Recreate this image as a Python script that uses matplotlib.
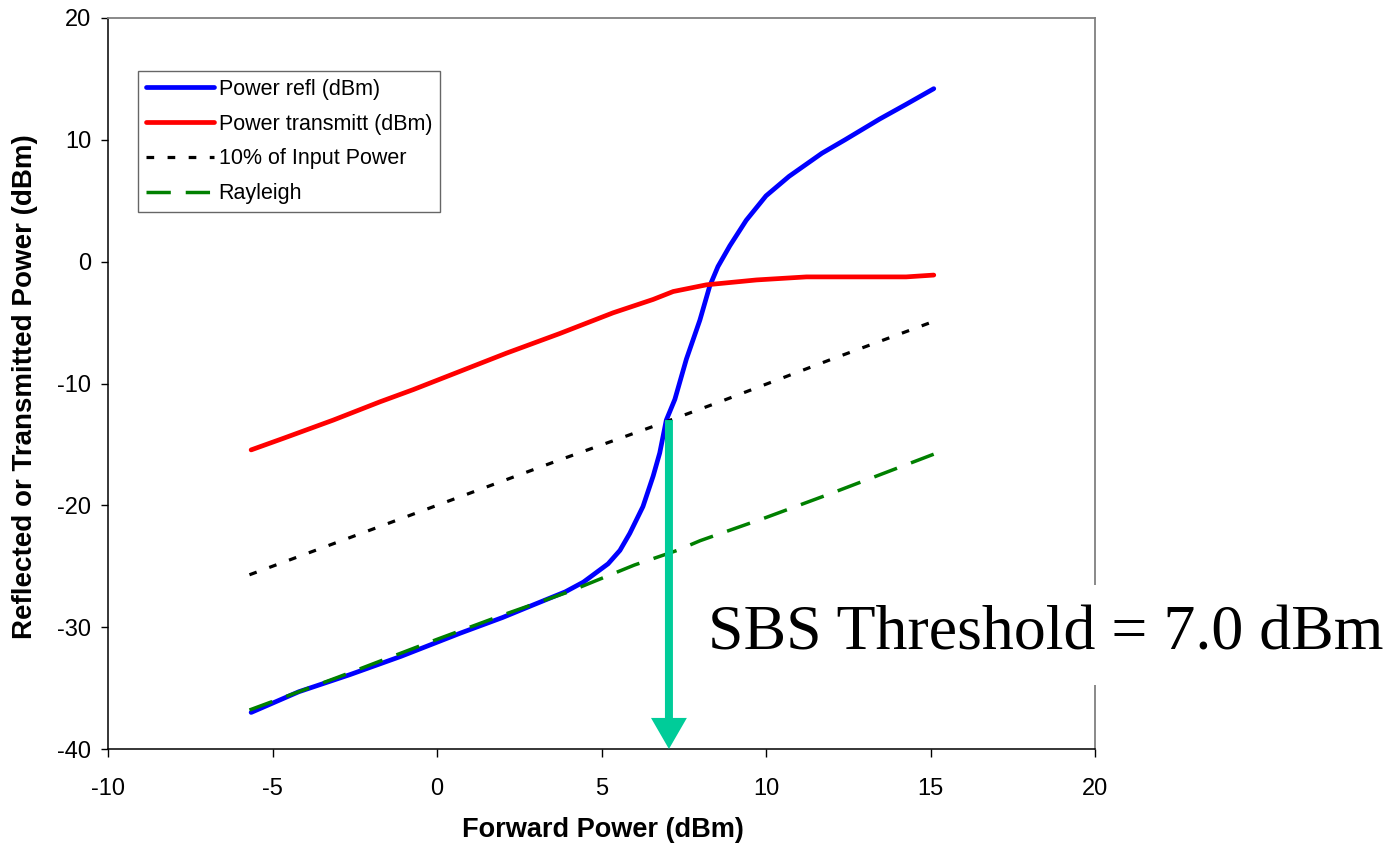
import matplotlib
matplotlib.use("Agg")
import matplotlib.pyplot as plt
from matplotlib.patches import FancyArrow, Rectangle

# ---------------- data ----------------
refl_x = [-5.65, -4.2, -2.65, -1.1, 0.7, 2.0, 2.9, 3.9, 4.45, 4.8, 5.2, 5.56, 5.86,
          6.26, 6.57, 6.77, 6.97, 7.23, 7.58, 7.99, 8.29, 8.54, 8.9, 9.4, 10.0,
          10.7, 11.7, 12.4, 13.45, 14.25, 15.1]
refl_y = [-37.0, -35.3, -33.9, -32.4, -30.5, -29.2, -28.2, -27.1, -26.3, -25.6,
          -24.8, -23.7, -22.3, -20.1, -17.6, -15.7, -13.0, -11.3, -8.0, -4.8,
          -2.0, -0.4, 1.3, 3.4, 5.4, 7.0, 8.9, 10.0, 11.7, 12.9, 14.2]

trans_x = [-5.65, -4.67, -3.15, -1.73, -0.72, 0.7, 2.12, 3.73, 5.35, 6.57, 7.18,
           8.19, 9.71, 11.23, 14.26, 15.1]
trans_y = [-15.45, -14.5, -13.0, -11.5, -10.5, -9.0, -7.5, -5.9, -4.2, -3.1, -2.45,
           -1.9, -1.5, -1.25, -1.25, -1.1]

ten_pct_x = [-5.7, -3.0, 0.0, 3.0, 3.7, 6.8, 8.6, 12.0, 15.1]
ten_pct_y = [-25.7, -23.0, -20.0, -17.0, -16.3, -13.3, -11.5, -8.0, -4.9]

rayleigh_x = [-5.7, -3.0, 0.0, 2.0, 4.0, 6.0, 7.3, 8.0, 10.0, 10.8, 12.0, 15.1]
rayleigh_y = [-36.8, -34.1, -31.0, -29.0, -27.1, -24.9, -23.7, -22.9, -21.0, -20.2,
              -19.0, -15.8]

series_labels = ["Power refl (dBm)", "Power transmitt (dBm)",
                 "10% of Input Power", "Rayleigh"]

threshold_x = 7.05
threshold_top = -13.0
threshold_text = "SBS Threshold = 7.0 dBm"

x_ticks = [-10, -5, 0, 5, 10, 15, 20]
y_ticks = [-40, -30, -20, -10, 0, 10, 20]

# ---------------- figure ----------------
plt.rcParams['font.family'] = ['Liberation Sans', 'DejaVu Sans']
plt.rcParams['axes.unicode_minus'] = False
W, H = 1393, 846
fig = plt.figure(figsize=(W / 100, H / 100), dpi=100)
ax = fig.add_axes([108 / W, 1 - 749 / H, 987 / W, 731 / H])

ax.plot(refl_x, refl_y, color='#0000FF', lw=3.4, solid_capstyle='round',
        label=series_labels[0], zorder=3)
ax.plot(trans_x, trans_y, color='#FF0000', lw=3.4, solid_capstyle='round',
        label=series_labels[1], zorder=3)
ax.plot(ten_pct_x, ten_pct_y, color='black', lw=2.3, linestyle=(0, (2.4, 4.2)),
        label=series_labels[2], zorder=4)
ax.plot(rayleigh_x, rayleigh_y, color='#008000', lw=2.5, linestyle=(0, (7, 4.3)),
        label=series_labels[3], zorder=4)

ax.set_xlim(-10, 20)
ax.set_ylim(-40, 20)
ax.set_xticks(x_ticks)
ax.set_yticks(y_ticks)
ax.tick_params(axis='y', direction='out', length=5, width=1, labelsize=17, pad=7)
ax.tick_params(axis='x', direction='out', length=6, width=1, labelsize=17, pad=15)

for s in ['left', 'bottom']:
    ax.spines[s].set_color('black')
    ax.spines[s].set_linewidth(1.1)
for s in ['top', 'right']:
    ax.spines[s].set_color('#808080')
    ax.spines[s].set_linewidth(1.3)

# threshold arrow
ax.add_patch(FancyArrow(threshold_x, threshold_top, 0, -40 - threshold_top,
                        width=0.243, head_width=1.09, head_length=2.55,
                        length_includes_head=True, color='#00CC99', lw=0, zorder=5))

leg = ax.legend(loc='upper left', bbox_to_anchor=(0.0304, 0.927), borderaxespad=0,
                fontsize=15.5, frameon=True, fancybox=False, handlelength=3.2,
                handletextpad=0.2, labelspacing=0.64, borderpad=0.35)
leg.get_frame().set_edgecolor('#404040')
leg.get_frame().set_linewidth(1.0)

fig.text(603 / W, 1 - 830 / H, "Forward Power (dBm)", ha='center', va='center',
         fontsize=19.5, fontweight='bold')
fig.text(25 / W, 1 - 387 / H, "Reflected or Transmitted Power (dBm)", ha='center',
         va='center', rotation=90, fontsize=20, fontweight='bold')

# white box behind the annotation text
fig.patches.append(Rectangle((700 / W, 1 - 685 / H), 693 / W, 100 / H,
                             transform=fig.transFigure, facecolor='white',
                             edgecolor='none', zorder=2))
fig.text(1046 / W, 1 - 634 / H, threshold_text, ha='center', va='center',
         fontsize=46, family=['Liberation Serif'], zorder=3)

fig.savefig('out.png', dpi=100)
